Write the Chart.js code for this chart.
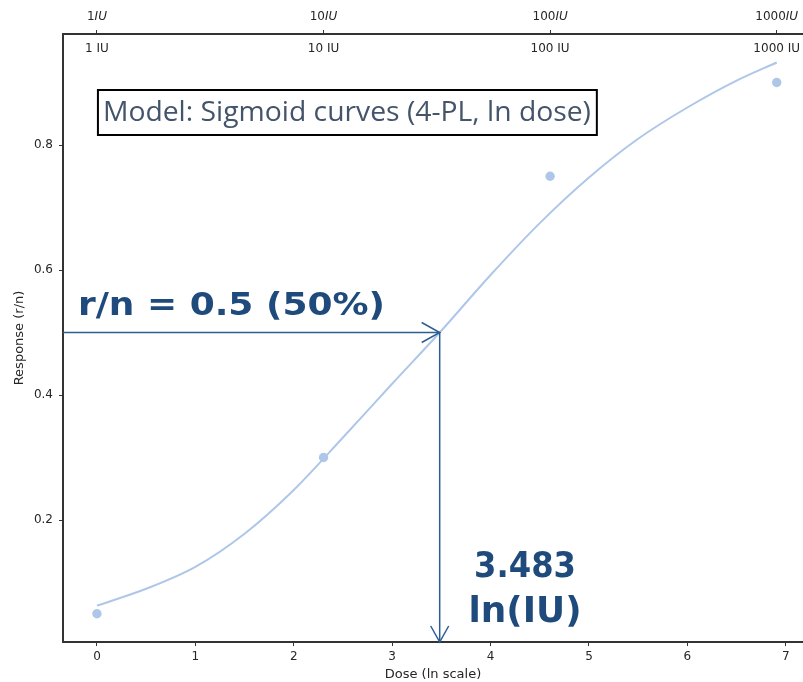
<!doctype html>
<html>
<head>
<meta charset="utf-8">
<title>Sigmoid curves (4-PL, ln dose)</title>
<script src="https://cdn.jsdelivr.net/npm/chart.js@4.4.1/dist/chart.umd.min.js"></script>
<style>
	html, body { margin: 0; padding: 0; background: #fff; overflow: hidden; }
</style>
</head>
<body>
<canvas id="chart" width="803" height="682"></canvas>
<script>
	// observed doses (IU) and responses r/n
	var doseIU = [1, 10, 100, 1000];
	var response = [0.05, 0.30, 0.75, 0.90];

	// fitted 4-PL curve at ln(dose) steps
	var curveLn = [0, 0.5, 1, 1.5, 2, 2.5, 3, 3.483, 4, 4.5, 5, 5.5, 6, 6.5, 6.908];
	var curveResp = [0.063, 0.09, 0.125, 0.178, 0.248, 0.332, 0.418, 0.50, 0.592, 0.675, 0.748, 0.81, 0.86, 0.903, 0.932];

	var xTicks = [0, 1, 2, 3, 4, 5, 6, 7];
	var yTicks = [0.2, 0.4, 0.6, 0.8];

	var ec50Ln = 3.483;
	var halfResp = 0.5;

	var axisColor = '#333';
	var textColor = '#262626';
	var markColor = '#aec7e8';
	var noteColor = '#1f4a7c';
	var arrowColor = '#2e5d91';
	var tickFont = { family: 'DejaVu Sans', size: 12 };
	var titleFont = { family: 'DejaVu Sans', size: 13 };

	Chart.defaults.font.family = 'DejaVu Sans';

	function fitText(ctx, text, x, y, width) {
		var w = ctx.measureText(text).width;
		ctx.save();
		ctx.translate(x, y);
		ctx.scale(width / w, 1);
		ctx.fillText(text, 0, 0);
		ctx.restore();
	}

	function arrowHead(ctx, x, y, dx, dy, len, half) {
		ctx.beginPath();
		ctx.moveTo(x - dx * len - dy * half, y - dy * len + dx * half);
		ctx.lineTo(x, y);
		ctx.lineTo(x - dx * len + dy * half, y - dy * len - dx * half);
		ctx.stroke();
	}

	var notes = {
		id: 'notes',
		afterDraw: function(chart) {
			var ctx = chart.ctx;
			var xs = chart.scales.x;
			var ys = chart.scales.y;
			var area = chart.chartArea;

			// dose labels above and just inside the top axis
			ctx.save();
			ctx.fillStyle = textColor;
			ctx.textBaseline = 'middle';
			doseIU.forEach(function(d) {
				var px = xs.getPixelForValue(Math.log(d));
				var num = String(d);
				ctx.font = '12px "DejaVu Sans"';
				var wNum = ctx.measureText(num).width;
				ctx.font = 'italic 12px "DejaVu Sans"';
				var wIU = ctx.measureText('IU').width;
				var left = px - (wNum + wIU) / 2;
				ctx.textAlign = 'left';
				ctx.font = '12px "DejaVu Sans"';
				ctx.fillText(num, left, area.top - 17);
				ctx.font = 'italic 12px "DejaVu Sans"';
				ctx.fillText('IU', left + wNum, area.top - 17);

				ctx.font = '12px "DejaVu Sans"';
				ctx.textAlign = 'center';
				ctx.fillText(d + ' IU', px, area.top + 15);
			});
			ctx.restore();

			// arrows to the 50% point
			var ex = xs.getPixelForValue(ec50Ln);
			var hy = ys.getPixelForValue(halfResp);
			ctx.save();
			ctx.strokeStyle = arrowColor;
			ctx.lineWidth = 1.5;
			ctx.beginPath();
			ctx.moveTo(area.left, hy);
			ctx.lineTo(ex, hy);
			ctx.lineTo(ex, area.bottom);
			ctx.stroke();
			arrowHead(ctx, ex, hy, 1, 0, 18, 10);
			arrowHead(ctx, ex, area.bottom, 0, 1, 16, 9);
			ctx.restore();

			// model box
			ctx.save();
			var bx0 = xs.getPixelForValue(0.01), bx1 = xs.getPixelForValue(5.08);
			var by0 = ys.getPixelForValue(0.888), by1 = ys.getPixelForValue(0.816);
			ctx.fillStyle = '#fff';
			ctx.fillRect(bx0, by0, bx1 - bx0, by1 - by0);
			ctx.strokeStyle = '#000';
			ctx.lineWidth = 2;
			ctx.strokeRect(bx0, by0, bx1 - bx0, by1 - by0);
			ctx.fillStyle = '#44546a';
			ctx.font = '28px "Open Sans"';
			ctx.textAlign = 'left';
			ctx.textBaseline = 'alphabetic';
			fitText(ctx, 'Model: Sigmoid curves (4-PL, ln dose)', bx0 + 5, ys.getPixelForValue(0.839), 488);
			ctx.restore();

			// bold callouts
			ctx.save();
			ctx.fillStyle = noteColor;
			ctx.textBaseline = 'alphabetic';
			ctx.textAlign = 'left';
			ctx.font = 'bold 32px "DejaVu Sans"';
			fitText(ctx, 'r/n = ' + halfResp + ' (50%)', xs.getPixelForValue(-0.193), ys.getPixelForValue(0.528), 307);
			ctx.font = 'bold 35px "DejaVu Sans"';
			var cx = xs.getPixelForValue(4.35);
			ctx.textAlign = 'center';
			fitText(ctx, ec50Ln.toFixed(3), cx, ys.getPixelForValue(0.109), 102);
			fitText(ctx, 'ln(IU)', cx, ys.getPixelForValue(0.037), 113);
			ctx.restore();
		}
	};

	var xMin = -0.345, xMax = 7.175;

	var config = {
		type: 'scatter',
		data: {
			datasets: [{
				label: 'curve',
				data: curveLn.map(function(x, i) { return { x: x, y: curveResp[i] }; }),
				showLine: true,
				borderColor: markColor,
				borderWidth: 2,
				pointRadius: 0,
				cubicInterpolationMode: 'monotone'
			}, {
				label: 'observed',
				data: doseIU.map(function(d, i) { return { x: Math.log(d), y: response[i] }; }),
				backgroundColor: markColor,
				borderWidth: 0,
				pointRadius: 4.7
			}]
		},
		options: {
			responsive: false,
			animation: false,
			layout: { padding: 0, autoPadding: false },
			plugins: { legend: { display: false }, tooltip: { enabled: false } },
			scales: {
				x: {
					type: 'linear', position: 'bottom', min: xMin, max: xMax,
					afterBuildTicks: function(s) { s.ticks = xTicks.map(function(v) { return { value: v }; }); },
					afterFit: function(s) { s.height = 40; },
					grid: { drawOnChartArea: false, color: axisColor, tickLength: 4, tickWidth: 1 },
					border: { color: axisColor, width: 2 },
					ticks: { font: tickFont, color: textColor, padding: 4, maxRotation: 0 },
					title: { display: true, text: 'Dose (ln scale)', font: titleFont, color: textColor, padding: 0 }
				},
				x2: {
					type: 'linear', position: 'top', min: xMin, max: xMax,
					afterBuildTicks: function(s) { s.ticks = doseIU.map(function(d) { return { value: Math.log(d) }; }); },
					afterFit: function(s) { s.height = 34; },
					grid: { drawOnChartArea: false, color: axisColor, tickLength: 4, tickWidth: 1 },
					border: { color: axisColor, width: 2 },
					ticks: { display: false }
				},
				y: {
					type: 'linear', min: 0.0048, max: 0.9776,
					afterBuildTicks: function(s) { s.ticks = yTicks.map(function(v) { return { value: v }; }); },
					afterFit: function(s) { s.width = 63; },
					grid: { drawOnChartArea: false, color: axisColor, tickLength: 4, tickWidth: 1 },
					border: { color: axisColor, width: 2 },
					ticks: { font: tickFont, color: textColor, padding: 6, callback: function(v) { return v.toFixed(1); } },
					title: { display: true, text: 'Response (r/n)', font: titleFont, color: textColor, padding: { top: 12, bottom: 0 } }
				}
			}
		},
		plugins: [notes]
	};

	window.onload = function() {
		var ctx = document.getElementById('chart').getContext('2d');
		window.myChart = new Chart(ctx, config);
	};
</script>
</body>
</html>
